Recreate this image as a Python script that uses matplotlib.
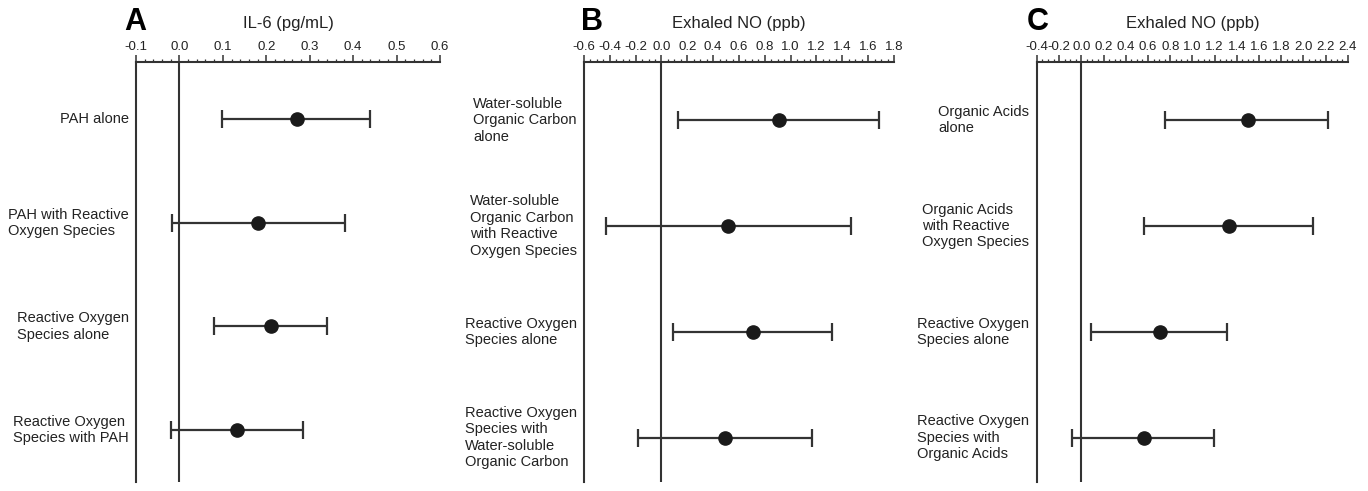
#!/usr/bin/env python3
"""Forest-style panels: IL-6 and exhaled NO effect estimates (A, B, C)."""

import matplotlib

matplotlib.use("Agg")
import matplotlib.pyplot as plt
import numpy as np
from matplotlib.ticker import MultipleLocator

plt.rcParams["font.family"] = ["Liberation Sans", "DejaVu Sans"]

# panel A: IL-6 (pg/mL)
labels_a = [
    "PAH alone",
    "PAH with Reactive\nOxygen Species",
    "Reactive Oxygen\nSpecies alone",
    "Reactive Oxygen\nSpecies with PAH",
]
est_a = [0.27, 0.182, 0.21, 0.132]
lo_a = [0.099, -0.016, 0.079, -0.019]
hi_a = [0.44, 0.381, 0.341, 0.285]

# panel B: exhaled NO (ppb)
labels_b = [
    "Water-soluble\nOrganic Carbon\nalone",
    "Water-soluble\nOrganic Carbon\nwith Reactive\nOxygen Species",
    "Reactive Oxygen\nSpecies alone",
    "Reactive Oxygen\nSpecies with\nWater-soluble\nOrganic Carbon",
]
est_b = [0.91, 0.517, 0.706, 0.494]
lo_b = [0.125, -0.43, 0.087, -0.184]
hi_b = [1.686, 1.464, 1.317, 1.167]

# panel C: exhaled NO (ppb)
labels_c = [
    "Organic Acids\nalone",
    "Organic Acids\nwith Reactive\nOxygen Species",
    "Reactive Oxygen\nSpecies alone",
    "Reactive Oxygen\nSpecies with\nOrganic Acids",
]
est_c = [1.50, 1.33, 0.706, 0.565]
lo_c = [0.757, 0.565, 0.087, -0.087]
hi_c = [2.225, 2.09, 1.31, 1.195]

LINE = "#333333"
DOT = "#1a1a1a"


def draw_panel(fig, rect, letter, letter_x, title, labels, est, lo, hi,
               xlim, major, minor, ylim):
    ax = fig.add_axes(rect)
    y = np.arange(len(est))
    est = np.asarray(est)
    err = [est - np.asarray(lo), np.asarray(hi) - est]
    ax.errorbar(est, y, xerr=err, fmt="o", color=LINE, ecolor=LINE,
                elinewidth=1.6, capsize=6.5, capthick=1.6,
                markersize=9.5, markerfacecolor=DOT, markeredgecolor=DOT,
                zorder=3)
    ax.axvline(0, color=LINE, lw=1.5, zorder=1)

    ax.set_xlim(*xlim)
    ax.set_ylim(*ylim)
    ax.xaxis.set_major_locator(MultipleLocator(major))
    ax.xaxis.set_minor_locator(MultipleLocator(minor))
    ax.xaxis.set_major_formatter(lambda v, _: f"{v:.1f}")
    ax.xaxis.tick_top()
    ax.tick_params(axis="x", which="major", direction="out", length=5,
                   width=1.1, color=LINE, labelsize=9.5, pad=1.5,
                   labelcolor="#222222")
    ax.tick_params(axis="x", which="minor", direction="out", length=2.5,
                   width=0.9, color=LINE)
    ax.set_yticks([])

    for side in ("right", "bottom"):
        ax.spines[side].set_visible(False)
    for side in ("left", "top"):
        ax.spines[side].set_color(LINE)
        ax.spines[side].set_linewidth(1.5)

    for yi, lab in zip(y, labels):
        ax.text(-0.024, yi, lab, transform=ax.get_yaxis_transform(),
                ha="right", va="center", multialignment="left",
                fontsize=10.5, color="#222222", linespacing=1.22)

    fig.text(rect[0] + rect[2] / 2, 0.953, title, ha="center",
             va="center", fontsize=12, color="#222222")
    fig.text(letter_x, 0.955, letter, ha="left", va="center",
             fontsize=22, fontweight="bold", color="black")
    return ax


def main() -> None:
    fig = plt.figure(figsize=(13.68, 4.91), dpi=100)

    bottom = 0.0183
    height = 0.8554
    draw_panel(fig, [0.0994, bottom, 0.2222, height], "A", 0.0905,
               "IL-6 (pg/mL)", labels_a, est_a, lo_a, hi_a,
               (-0.1, 0.6), 0.1, 0.02, (3.5, -0.55))
    draw_panel(fig, [0.4269, bottom, 0.2266, height], "B", 0.4245,
               "Exhaled NO (ppb)", labels_b, est_b, lo_b, hi_b,
               (-0.6, 1.8), 0.2, 0.05, (3.42, -0.55))
    draw_panel(fig, [0.7580, bottom, 0.2273, height], "C", 0.7505,
               "Exhaled NO (ppb)", labels_c, est_c, lo_c, hi_c,
               (-0.4, 2.4), 0.2, 0.05, (3.42, -0.55))

    fig.savefig("out.png", dpi=100, facecolor="white")
    plt.close(fig)


if __name__ == "__main__":
    main()
